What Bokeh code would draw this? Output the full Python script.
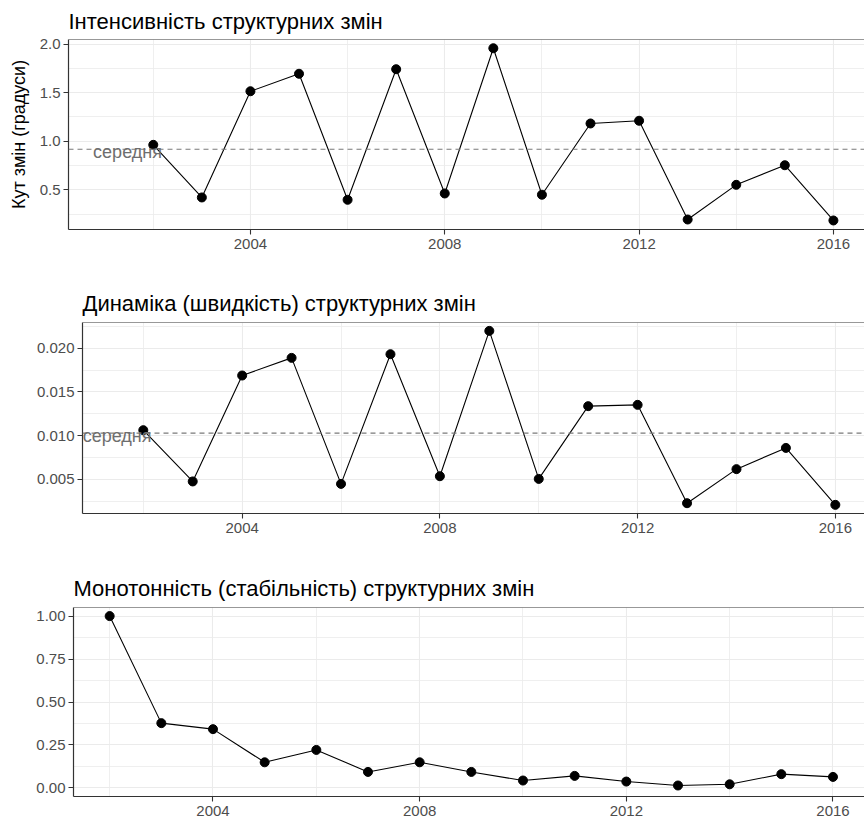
from bokeh.plotting import figure
from bokeh.models import FixedTicker, Span, Label, Range1d, PrintfTickFormatter
from bokeh.embed import file_html
from bokeh.resources import INLINE

# ---------------- data ----------------
years = list(range(2002, 2017))
intensity = [0.963, 0.421, 1.515, 1.695, 0.397, 1.742, 0.462, 1.958, 0.449,
             1.183, 1.211, 0.194, 0.551, 0.753, 0.184]
dynamics = [0.01061, 0.00474, 0.01687, 0.01889, 0.00446, 0.01931, 0.00534,
            0.02198, 0.00503, 0.01336, 0.01351, 0.00225, 0.00615, 0.00858, 0.00206]
monotony = [1.0, 0.377, 0.342, 0.149, 0.221, 0.093, 0.149, 0.093, 0.043,
            0.070, 0.037, 0.014, 0.021, 0.080, 0.064]
intensity_mean = 0.918
dynamics_mean = 0.01027
mean_label = "середня"
mean_label_x = 2001.47

titles = ["Інтенсивність структурних змін",
          "Динаміка (швидкість) структурних змін",
          "Монотонність (стабільність) структурних змін"]
y_axis_title = "Кут змін (градуси)"

x_ticks = [2004, 2008, 2012, 2016]
x_minor = [2002, 2006, 2010, 2014]
y_ticks_1 = [0.5, 1.0, 1.5, 2.0]
y_minor_1 = [0.25, 0.75, 1.25, 1.75]
y_ticks_2 = [0.005, 0.010, 0.015, 0.020]
y_minor_2 = [0.0025, 0.0075, 0.0125, 0.0175, 0.0225]
y_ticks_3 = [0.0, 0.25, 0.5, 0.75, 1.0]
y_minor_3 = [0.125, 0.375, 0.625, 0.875]

FONT = "Liberation Sans"
GRID = "#EBEBEB"
BORDER = "#333333"
TICKLAB = "#4D4D4D"


def make_panel(title, ys, xr, yr, yt, ym, fmt, height, b_left, b_top, b_bottom,
               mean=None, ylabel=None, title_standoff=13):
    p = figure(width=864, height=height, output_backend="svg",
               toolbar_location=None, x_range=Range1d(*xr), y_range=Range1d(*yr),
               min_border_left=b_left, min_border_right=0,
               min_border_top=b_top, min_border_bottom=b_bottom)
    p.outline_line_color = None
    p.background_fill_color = "white"
    p.title.text = title
    p.title.text_font = FONT
    p.title.text_font_size = "22px"
    p.title.text_font_style = "normal"
    p.title.text_color = "#000000"
    p.title.offset = 0
    p.title.standoff = title_standoff

    p.xaxis.ticker = FixedTicker(ticks=x_ticks, minor_ticks=x_minor)
    p.yaxis.ticker = FixedTicker(ticks=yt, minor_ticks=ym)
    p.yaxis.formatter = PrintfTickFormatter(format=fmt)
    for ax in (p.xaxis, p.yaxis):
        ax.axis_line_color = BORDER
        ax.axis_line_width = 1.2
        ax.major_tick_line_color = BORDER
        ax.major_tick_line_width = 1.1
        ax.major_tick_out = 5
        ax.major_tick_in = 0
        ax.minor_tick_line_color = None
        ax.major_label_text_font = FONT
        ax.major_label_text_font_size = "15px"
        ax.major_label_text_color = TICKLAB
    p.xaxis.major_label_standoff = 4
    p.yaxis.major_label_standoff = 3
    if ylabel:
        p.yaxis.axis_label = ylabel
        p.yaxis.axis_label_text_font = FONT
        p.yaxis.axis_label_text_font_size = "18px"
        p.yaxis.axis_label_text_font_style = "normal"
        p.yaxis.axis_label_text_color = "#000000"
        p.yaxis.axis_label_standoff = 8

    for g in (p.xgrid, p.ygrid):
        g.grid_line_color = GRID
        g.grid_line_width = 1.1
        g.minor_grid_line_color = GRID
        g.minor_grid_line_width = 0.8

    p.add_layout(Span(location=yr[1], dimension="width", line_color=BORDER,
                      line_width=1.2))

    if mean is not None:
        p.add_layout(Span(location=mean, dimension="width", line_color="#7A7A7A",
                          line_width=1.1, line_dash="5 4"))
        p.add_layout(Label(x=mean_label_x, y=mean, text=mean_label,
                           text_align="center", text_baseline="middle",
                           y_offset=-3, text_font=FONT, text_font_size="18px",
                           text_color="#6E6E6E"))

    p.line(years, ys, line_color="black", line_width=1.1)
    p.scatter(years, ys, size=9, fill_color="black", line_color="black")
    return p


p1 = make_panel(titles[0], intensity, (2000.255, 2016.64), (0.091, 2.048),
                y_ticks_1, y_minor_1, "%.1f", 262, 68, 39, 33,
                mean=intensity_mean, ylabel=y_axis_title, title_standoff=11)
p2 = make_panel(titles[1], dynamics, (2000.77, 2016.59), (0.00107, 0.02294),
                y_ticks_2, y_minor_2, "%.3f", 283, 82, 60, 32,
                mean=dynamics_mean)
p3 = make_panel(titles[2], monotony, (2001.3, 2016.61), (-0.05, 1.05),
                y_ticks_3, y_minor_3, "%.2f", 278, 73, 62, 27)

open("out.html", "w").write(file_html([p1, p2, p3], INLINE))
